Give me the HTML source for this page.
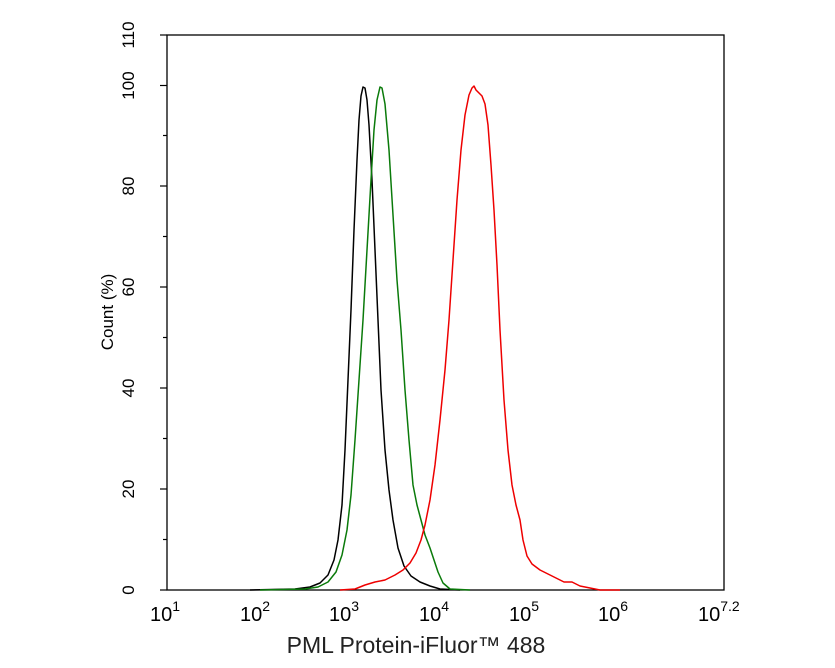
<!DOCTYPE html>
<html><head><style>body{margin:0;background:#fff}svg{display:block;font-family:"Liberation Sans",Arial,sans-serif}</style></head>
<body>
<svg width="835" height="668" viewBox="0 0 835 668" xmlns="http://www.w3.org/2000/svg">
<rect x="167" y="35" width="557" height="555" fill="none" stroke="#000" stroke-width="1.3"/>
<g stroke="#000" stroke-width="1.2">
<line x1="160" y1="590" x2="167" y2="590"/><line x1="160" y1="489" x2="167" y2="489"/><line x1="160" y1="388" x2="167" y2="388"/><line x1="160" y1="287" x2="167" y2="287"/><line x1="160" y1="186" x2="167" y2="186"/><line x1="160" y1="85.5" x2="167" y2="85.5"/><line x1="160" y1="35" x2="167" y2="35"/>
<line x1="163" y1="539.5" x2="167" y2="539.5"/><line x1="163" y1="438.5" x2="167" y2="438.5"/><line x1="163" y1="337.5" x2="167" y2="337.5"/><line x1="163" y1="236.5" x2="167" y2="236.5"/><line x1="163" y1="135.5" x2="167" y2="135.5"/>
</g>
<g id="xt" stroke="#000" stroke-width="1.2"></g>
<g font-size="17" text-anchor="middle" fill="#000">
<text transform="translate(134,590) rotate(-90)">0</text>
<text transform="translate(134,489) rotate(-90)">20</text>
<text transform="translate(134,388) rotate(-90)">40</text>
<text transform="translate(134,287) rotate(-90)">60</text>
<text transform="translate(134,186) rotate(-90)">80</text>
<text transform="translate(134,85.5) rotate(-90)">100</text>
<text transform="translate(134,35) rotate(-90)">110</text>
<text transform="translate(113,312) rotate(-90)">Count  (%)</text>
</g>
<g font-size="20" fill="#000">
<text x="150" y="621">10<tspan font-size="14" dy="-10">1</tspan></text>
<text x="240" y="621">10<tspan font-size="14" dy="-10">2</tspan></text>
<text x="329" y="621">10<tspan font-size="14" dy="-10">3</tspan></text>
<text x="419" y="621">10<tspan font-size="14" dy="-10">4</tspan></text>
<text x="509" y="621">10<tspan font-size="14" dy="-10">5</tspan></text>
<text x="598" y="621">10<tspan font-size="14" dy="-10">6</tspan></text>
<text x="698" y="621">10<tspan font-size="14" dy="-10">7.2</tspan></text>
</g>
<text x="416" y="653" font-size="23" text-anchor="middle" fill="#222">PML Protein-iFluor™ 488</text>
<g fill="none" stroke-width="1.5" stroke-linejoin="round">
<polyline stroke="#000" points="250,590 295,589 310,587 320,583 328,575 334,560 338,540 342,505 345,450 348,380 351,310 354,230 357,160 359,120 361,96 363,87 365,88 367,100 369,125 372,180 375,250 378,320 381,390 385,450 389,490 393,520 398,548 404,566 411,576 420,582 430,586 440,589 460,590"/>
<polyline stroke="#0a7a0a" points="260,590 305,589 318,587 328,582 336,572 342,555 347,530 351,495 355,440 359,380 363,320 367,250 371,180 374,130 377,100 380,87 382,88 385,104 389,150 393,215 397,280 401,330 405,390 409,440 413,485 417,505 421,520 425,535 430,548 434,560 438,572 443,583 450,589 470,590"/>
<polyline stroke="#e00" points="340,590 355,589 365,585 375,582 385,580 395,575 403,570 410,563 416,553 421,540 425,525 430,500 435,465 440,420 445,370 449,320 453,260 457,200 461,150 465,115 469,95 472,88 474,86 476,90 479,93 482,96 485,104 488,125 491,165 494,210 497,265 500,330 504,400 508,450 512,485 516,505 520,520 523,540 527,556 532,564 540,570 548,574 556,578 564,582 572,582 580,586 590,588 600,590 620,590"/>
</g>
<script>
var g=document.getElementById('xt'),s='';
for(var d=1;d<=7;d++){var x0=167+(d-1)*89.84;if(x0<=725)s+='<line x1="'+x0+'" y1="590" x2="'+x0+'" y2="598"/>';
for(var k=2;k<=9;k++){var x=x0+Math.log10(k)*89.84;if(x<724)s+='<line x1="'+x+'" y1="590" x2="'+x+'" y2="594"/>';}}
s+='<line x1="724" y1="590" x2="724" y2="598"/>';
g.innerHTML=s;
</script>
</svg>
</body></html>
